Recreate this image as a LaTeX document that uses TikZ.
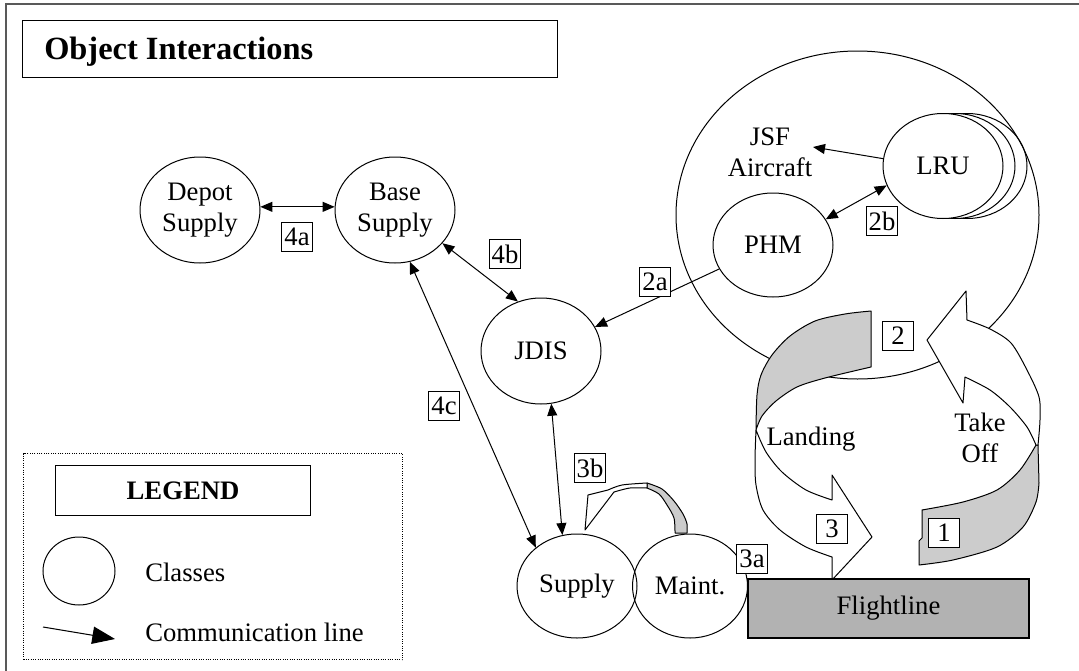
\documentclass[tikz,border=0pt]{standalone}
\usepackage{fontspec}
\setmainfont{Liberation Serif}
\usetikzlibrary{shapes.geometric,arrows.meta}
\begin{document}
\begin{tikzpicture}[x=0.75pt,y=-0.75pt,
  every node/.style={font=\fontsize{20}{23}\selectfont,inner sep=0pt},
  cls/.style={ellipse,draw,line width=0.75pt,minimum width=90pt,minimum height=79.5pt,align=center},
  lbl/.style={draw,fill=white,line width=0.75pt,minimum width=23.25pt,minimum height=21.75pt},
  conn/.style={line width=0.75pt,>={Triangle[length=9pt,width=7.5pt]}},
  backface/.style={fill=black!20,draw,line width=0.75pt,line join=round},
  frontface/.style={fill=white,draw,line width=0.75pt,line join=round},
]
\useasboundingbox (0,0) rectangle (1079,671);
\fill[white] (0,0) rectangle (1079,671);
\draw[line width=1.5pt,black!65] (6,4) rectangle (1100,700);

% title
\node[draw,line width=1pt,anchor=north west,minimum width=401.25pt,minimum height=42.75pt] (titlebox) at (22,20) {};
\node[anchor=base west,font=\fontsize{24.3}{28}\selectfont\bfseries] (title) at (44,60) {Object Interactions};

% classes
\node[cls] (depot) at (200,210) {Depot\\Supply};
\node[cls] (base) at (395,210) {Base\\Supply};
\node[cls] (jdis) at (541,351) {JDIS};
\node[cls,minimum height=78pt] (phm) at (773,245) {PHM};
\node[cls,fill=white,minimum height=78.75pt] (lru3) at (967,166) {};
\node[cls,fill=white,minimum height=78.75pt] (lru2) at (955,166) {};
\node[cls,fill=white,minimum height=78.75pt] (lru) at (943,166) {LRU};
\node[ellipse,draw,line width=0.75pt,minimum width=272.25pt,minimum height=246pt] (jsfac) at (857.5,215) {};
\node[align=center] (jsf) at (770,152) {JSF\\Aircraft};
\coordinate (jsfend) at (813,147);
\node[cls,minimum height=78pt] (supply) at (577,586) {Supply};
\node[cls,minimum width=86.25pt,minimum height=78pt] (maint) at (690,586) {Maint.};

% connectors
\draw[conn,<->] (depot.3) -- (base.177);
\draw[conn,<->] (base.-35) -- (jdis.115);
\draw[conn,<->] (base.-74) -- (supply.137);
\draw[conn,<->] (jdis.-79) -- (supply.106);
\draw[conn,->] (phm.204) -- (jdis.24);
\draw[conn,->] (lru.173) -- (jsfend);
\draw[conn,<->] (lru.199) -- (phm.26);

% Landing arrow
\filldraw[backface] plot[smooth] coordinates {(871,311) (845,314) (815,321) (790,336) (772,355) (761,375) (757,395) (756,430)}
  -- plot[smooth] coordinates {(756,430) (762,416) (776,401) (797,387) (825,378) (871,367)} -- cycle;
\filldraw[frontface] plot[smooth] coordinates {(756,430) (755,460) (756,485) (763,510) (780,530) (806,547) (832,557)}
  -- (832,580) -- (872,537) -- (832,475) -- (832,500)
  -- plot[smooth] coordinates {(832,500) (806,490) (782,472) (766,452) (756,430)} -- cycle;

% Take Off arrow
\filldraw[backface] plot[smooth] coordinates {(1036,445) (1020,470) (997,490) (963,502) (922,510)}
  -- (922,538) -- (919,541) -- (919,565)
  -- plot[smooth] coordinates {(919,565) (953,560) (997,547) (1023,527) (1036,502) (1039,483)} -- (1038,445) -- cycle;
\filldraw[frontface] plot[smooth] coordinates {(1038,445) (1040,420) (1039,397) (1027,370) (1011,343) (990,329) (967,320)}
  -- (966,291) -- (927,340) -- (963,403) -- (965,377)
  -- plot[smooth] coordinates {(965,377) (990,390) (1010,407) (1027,427) (1036,445)} -- cycle;

% Maint loop arrow
\filldraw[backface] plot[smooth] coordinates {(647,483) (662,489) (674,501) (683,514) (687,524) (687,533)}
  -- (675,533) -- plot[smooth] coordinates {(675,533) (674,518) (667,505) (659,494) (647,488)} -- cycle;
\filldraw[frontface] plot[smooth] coordinates {(647,483) (622,485) (608,490)} -- (588,495) -- (585,530) -- (614,492)
  -- plot[smooth] coordinates {(614,492) (630,488) (647,488)} -- cycle;

% flightline
\node[draw,line width=1.2pt,fill=black!30,minimum width=210.75pt,minimum height=44.25pt] (flight) at (888.5,608.5) {Flightline};

% labels
\node (landing) at (811,439) {Landing};
\node[align=center] (takeoff) at (980,438) {Take\\Off};
\node[lbl] (l4a) at (297,237) {4a};
\node[lbl] (l4b) at (505,254) {4b};
\node[lbl] (l4c) at (444,406) {4c};
\node[lbl] (l2a) at (655,282) {2a};
\node[lbl] (l2b) at (882,221) {2b};
\node[lbl] (l3b) at (590,468) {3b};
\node[lbl] (l3a) at (752,559) {3a};
\node[lbl] (l2) at (898,336) {2};
\node[lbl] (l3) at (832,529) {3};
\node[lbl] (l1) at (944,533) {1};

% legend
\node[draw,densely dotted,line width=0.75pt,minimum width=284.25pt,minimum height=154.5pt,anchor=north west] (legendframe) at (23,453) {};
\node[draw,line width=0.75pt,minimum width=191.25pt,minimum height=37.5pt,anchor=north west,font=\fontsize{20}{23}\selectfont\bfseries] (legend) at (55,465) {LEGEND};
\node[ellipse,draw,line width=0.75pt,minimum width=54pt,minimum height=51pt] (lgcirc) at (79,571) {};
\node[anchor=west] (classes) at (145,572) {Classes};
\coordinate (lga) at (43,627);
\coordinate (lgb) at (115,639);
\draw[line width=0.75pt,-{Triangle[length=17pt,width=13pt]}] (lga) -- (lgb);
\node[anchor=west] (commline) at (145,632) {Communication line};
\end{tikzpicture}
\end{document}
